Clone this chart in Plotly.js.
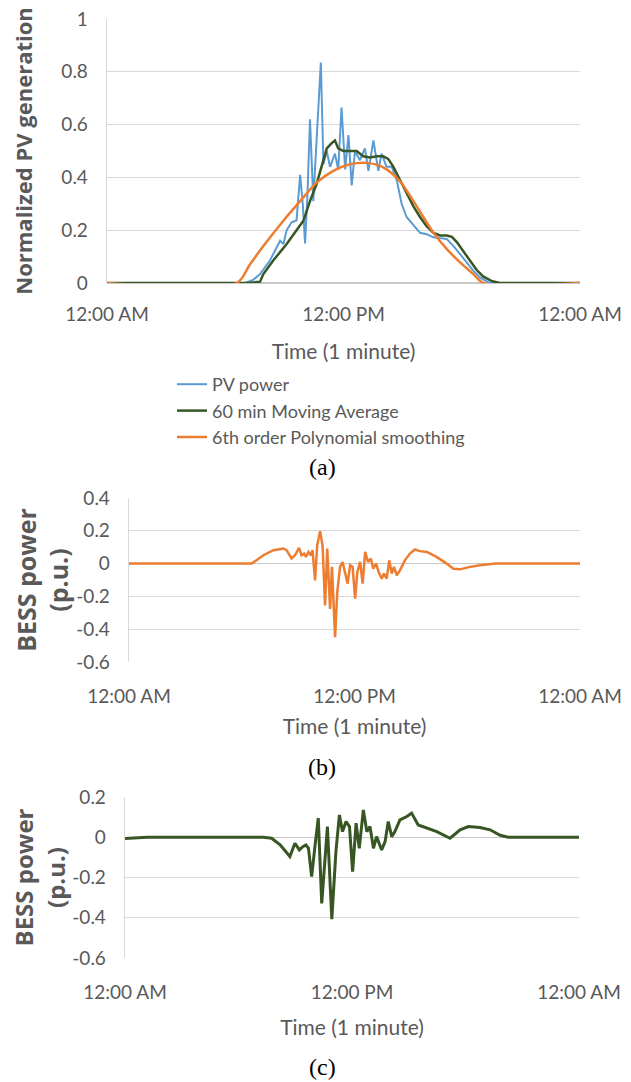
<!DOCTYPE html>
<html><head><meta charset="utf-8">
<script src="https://cdn.plot.ly/plotly-3.0.1.min.js"></script>
<style>html,body{margin:0;padding:0;background:#fff;}#chart{width:631px;height:1082px;}</style>
</head><body><div id="chart"></div>
<script>
// ---------- data (time in minutes since midnight) ----------
const xTickVals = [0, 720, 1440];
const xTickText = ['12:00 AM', '12:00 PM', '12:00 AM'];

// (a) PV power (1-minute), normalized
const pvT = [0,420,445,466,496,527,537,547,562,577,588,596,603,610,618,628,638,651,659,669,679,694,704,714,725,735,745,755,770,785,796,811,826,836,851,867,882,897,912,933,953,973,993,1014,1034,1055,1075,1095,1115,1136,1165,1440];
const pvV = [0,0,0.012,0.034,0.085,0.16,0.148,0.2,0.23,0.237,0.41,0.3,0.15,0.324,0.62,0.31,0.54,0.835,0.45,0.5,0.44,0.49,0.43,0.665,0.43,0.56,0.37,0.5,0.465,0.51,0.425,0.54,0.425,0.49,0.44,0.44,0.39,0.30,0.25,0.22,0.19,0.185,0.173,0.17,0.167,0.14,0.11,0.08,0.047,0.02,0,0];

// (a) 60 min moving average
const maT = [0,430,466,476,506,547,577,598,618,638,653,669,684,694,704,720,740,760,780,801,821,841,856,872,892,912,933,953,973,994,1014,1034,1050,1065,1085,1105,1125,1145,1170,1196,1440];
const maV = [0,0,0.005,0.034,0.085,0.148,0.2,0.236,0.31,0.375,0.44,0.51,0.53,0.54,0.51,0.5,0.5,0.5,0.48,0.475,0.48,0.48,0.47,0.44,0.39,0.34,0.29,0.25,0.215,0.19,0.18,0.18,0.175,0.155,0.12,0.085,0.05,0.025,0.008,0,0];

// (a) 6th order polynomial smoothing
const polyT = [0,395,435,476,537,588,638,689,740,791,841,892,943,994,1034,1075,1115,1146,1440];
const polyV = [0,0,0.07,0.14,0.236,0.31,0.38,0.425,0.45,0.455,0.438,0.385,0.29,0.19,0.129,0.078,0.034,0,0];

// (b) BESS power (p.u.)
const bT = [0,392,429,461,493,503,519,530,543,551,559,565,573,580,586,594,601,610,618,626,633,642,648,658,665,674,682,690,698,706,714,722,729,738,746,754,763,772,780,789,797,807,814,823,831,839,846,855,865,881,897,913,929,951,982,1014,1036,1057,1089,1121,1170,1440];
const bV = [0,0,0.051,0.082,0.092,0.082,0.031,0.051,0.096,0.051,0.061,0.041,0.071,0.051,0.082,-0.102,0.112,0.198,0.112,-0.255,0.092,-0.276,-0.02,-0.449,-0.173,-0.02,0.01,-0.051,-0.122,-0.01,-0.02,-0.214,-0.051,0.01,-0.122,0.071,0.01,0.031,-0.031,0,-0.051,-0.092,-0.061,-0.092,0.02,-0.061,-0.02,-0.071,-0.041,0.02,0.061,0.086,0.076,0.071,0.041,0,-0.031,-0.035,-0.02,-0.01,0,0];

// (c) BESS power (p.u.)
const cT = [0,70,439,465,492,523,539,553,564,574,582,592,603,613,624,642,656,669,680,690,701,712,722,733,743,756,767,777,788,798,814,825,835,846,856,872,894,909,930,957,989,1031,1063,1089,1126,1158,1190,1215,1440];
const cV = [-0.006,0,0,-0.005,-0.038,-0.096,-0.03,-0.063,-0.047,-0.038,-0.055,-0.196,-0.038,0.095,-0.329,0.053,-0.407,-0.071,0.111,0.028,0.078,0.053,-0.171,0.07,-0.055,0.136,0.028,0.053,-0.055,0.003,-0.063,-0.022,0.078,0.003,0.028,0.086,0.103,0.12,0.061,0.045,0.028,-0.005,0.037,0.053,0.048,0.037,0.01,0,0];

const yTickA = [0,0.2,0.4,0.6,0.8,1];
const yTickAText = ['0','0.2','0.4','0.6','0.8','1'];
const yTickB = [-0.6,-0.4,-0.2,0,0.2,0.4];
const yTickBText = ['-0.6','-0.4','-0.2','0','0.2','0.4'];
const yTickC = [-0.6,-0.4,-0.2,0,0.2];
const yTickCText = ['-0.6','-0.4','-0.2','0','0.2'];

// ---------- styling ----------
const W = 631, H = 1082;
const TXT = '#595959', GRID = '#D9D9D9';
const tickFont = {family: 'Lato, "Open Sans", sans-serif', size: 19, color: TXT};
const xTitleFont = {family: 'Lato, "Open Sans", sans-serif', size: 21, color: TXT};
const yTitleFont = (s) => ({family: '"Open Sans", sans-serif', size: s, color: TXT, weight: 700});
const px = (a, b) => [a / W, b / W];
const py = (top, bottom) => [1 - bottom / H, 1 - top / H];

function xAxis(dom, anchor, standoffLbl, standoffTitle) {
  return {domain: dom, anchor: anchor, range: [0, 1440], tickmode: 'array', tickvals: xTickVals, ticktext: xTickText,
    showgrid: false, zeroline: false, showline: false, ticks: '', tickfont: tickFont, ticklabelstandoff: standoffLbl,
    title: {text: 'Time (1 minute)', font: xTitleFont, standoff: standoffTitle}, fixedrange: true};
}
function yAxis(dom, anchor, rng, tv, tt, title, tsize, tstand) {
  return {domain: dom, anchor: anchor, range: rng, tickmode: 'array', tickvals: tv, ticktext: tt,
    showgrid: true, gridcolor: GRID, gridwidth: 1.3, zeroline: true, zerolinecolor: '#C8C8C8', zerolinewidth: 1.3,
    showline: true, linecolor: GRID, linewidth: 1.3, ticks: '', tickfont: tickFont, ticklabelstandoff: 14,
    title: {text: title, font: yTitleFont(tsize), standoff: tstand}, fixedrange: true};
}

const traces = [
  {x: pvT, y: pvV, type: 'scatter', mode: 'lines', name: 'PV power', line: {color: '#5B9BD5', width: 2}, xaxis: 'x', yaxis: 'y'},
  {x: maT, y: maV, type: 'scatter', mode: 'lines', name: '60 min Moving Average', line: {color: '#375623', width: 2.5}, xaxis: 'x', yaxis: 'y'},
  {x: polyT, y: polyV, type: 'scatter', mode: 'lines', name: '6th order Polynomial smoothing', line: {color: '#ED7D31', width: 2.5, shape: 'spline', smoothing: 0.8}, xaxis: 'x', yaxis: 'y'},
  {x: bT, y: bV, type: 'scatter', mode: 'lines', name: 'BESS (b)', showlegend: false, line: {color: '#ED7D31', width: 2.5}, xaxis: 'x2', yaxis: 'y2'},
  {x: cT, y: cV, type: 'scatter', mode: 'lines', name: 'BESS (c)', showlegend: false, line: {color: '#375623', width: 3}, xaxis: 'x3', yaxis: 'y3'}
];

const layout = {
  width: W, height: H, margin: {l: 0, r: 0, t: 0, b: 0, autoexpand: false},
  paper_bgcolor: '#fff', plot_bgcolor: '#fff',
  font: {family: 'Lato, sans-serif', color: TXT},
  xaxis: xAxis(px(107, 580), 'y', 18, 20),
  yaxis: yAxis(py(19, 283), 'x', [0, 1], yTickA, yTickAText, 'Normalized PV generation', 22, 22),
  xaxis2: xAxis(px(129, 580), 'y2', 21, 13),
  yaxis2: yAxis(py(498, 662), 'x2', [-0.6, 0.4], yTickB, yTickBText, 'BESS power<br>(p.u.)', 25, 0),
  xaxis3: xAxis(px(125, 579), 'y3', 21, 18),
  yaxis3: yAxis(py(797, 958), 'x3', [-0.6, 0.2], yTickC, yTickCText, 'BESS power<br>(p.u.)', 24, 0),
  showlegend: true,
  legend: {x: 172 / W, y: 1 - 366 / H, xanchor: 'left', yanchor: 'top', bgcolor: 'rgba(0,0,0,0)',
    font: {family: 'Lato, sans-serif', size: 18, color: TXT}, tracegroupgap: 0, itemclick: false, itemdoubleclick: false},
  annotations: [
    {text: '(a)', x: 322 / W, y: 1 - 467 / H, xref: 'paper', yref: 'paper', showarrow: false, xanchor: 'center', yanchor: 'middle', font: {family: '"Liberation Serif", "Times New Roman", serif', size: 24, color: '#000'}},
    {text: '(b)', x: 322 / W, y: 1 - 767 / H, xref: 'paper', yref: 'paper', showarrow: false, xanchor: 'center', yanchor: 'middle', font: {family: '"Liberation Serif", "Times New Roman", serif', size: 24, color: '#000'}},
    {text: '(c)', x: 322 / W, y: 1 - 1067 / H, xref: 'paper', yref: 'paper', showarrow: false, xanchor: 'center', yanchor: 'middle', font: {family: '"Liberation Serif", "Times New Roman", serif', size: 24, color: '#000'}}
  ]
};

Plotly.newPlot('chart', traces, layout, {displayModeBar: false, staticPlot: true});
</script>
</body></html>
